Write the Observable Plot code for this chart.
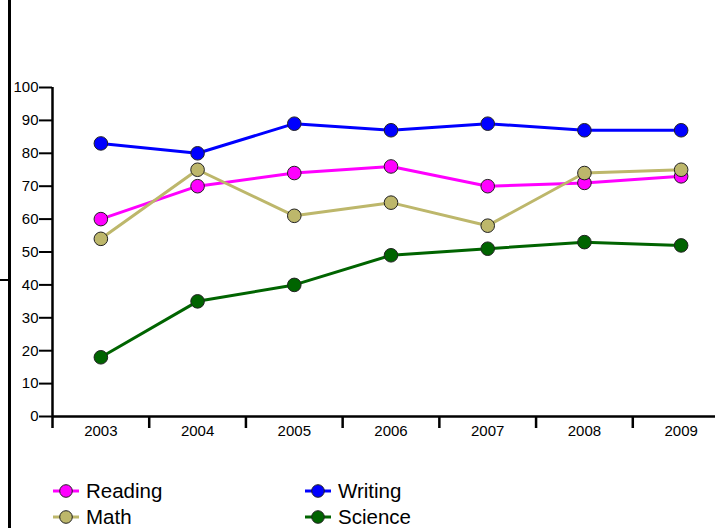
<!DOCTYPE html>
<html>
<head>
<meta charset="utf-8">
<script src="https://cdn.jsdelivr.net/npm/d3@7"></script>
<script src="https://cdn.jsdelivr.net/npm/@observablehq/plot@0.6"></script>
<style>
  body { margin: 0; background: #fff; font-family: "Liberation Sans", Arial, sans-serif; }
  #wrap { position: relative; width: 715px; height: 528px; overflow: hidden; }
  #vline { position: absolute; left: 8px; top: 0; width: 2.5px; height: 528px; background: #000; }
  #vtick { position: absolute; left: 0; top: 279px; width: 9px; height: 2px; background: #000; }
  #chart { position: absolute; left: 0; top: 0; }
  .leg { position: absolute; display: flex; align-items: center; font-size: 20.5px; color: #000; line-height: 20px; }
  .leg svg { margin-right: 7px; }
</style>
</head>
<body>
<div id="wrap">
  <div id="chart"></div>
  <div id="vline"></div>
  <div id="vtick"></div>
  <div id="legend"></div>
</div>
<script>
const years = ["2003", "2004", "2005", "2006", "2007", "2008", "2009"];
const seriesNames = ["Reading", "Writing", "Math", "Science"];
const seriesColors = ["#ff00ff", "#0000ff", "#bdb76b", "#006400"];
const reading = [60, 70, 74, 76, 70, 71, 73];
const writing = [83, 80, 89, 87, 89, 87, 87];
const math = [54, 75, 61, 65, 58, 74, 75];
const science = [18, 35, 40, 49, 51, 53, 52];
const yTicks = [0, 10, 20, 30, 40, 50, 60, 70, 80, 90, 100];

const seriesValues = [reading, writing, math, science];
const data = [];
seriesNames.forEach((s, i) => {
  years.forEach((y, j) => data.push({series: s, year: y, value: seriesValues[i][j]}));
});

const x0 = 52, x1 = 729;
const step = (x1 - x0) / years.length;

const chart = Plot.plot({
  width: 715,
  height: 470,
  marginLeft: 52,
  marginRight: 0,
  marginTop: 87,
  marginBottom: 54,
  style: {fontFamily: "'Liberation Sans', Arial, sans-serif", fontSize: "15px", color: "#000", background: "#fff"},
  x: {type: "point", domain: years, range: [x0, x1], padding: 0.5, round: false},
  y: {domain: [0, 100]},
  color: {domain: seriesNames, range: seriesColors},
  marks: [
    Plot.axisY({ticks: yTicks, tickSize: 13, tickPadding: 1, fontSize: 15, strokeWidth: 2, label: null}),
    Plot.axisX({tickSize: 12, tickFormat: () => "", dx: -step / 2, strokeWidth: 2.5, label: null}),
    Plot.axisX({tickSize: 0, tickPadding: 9, fontSize: 15, label: null}),
    Plot.ruleX([years[0]], {y1: 0, y2: 100, dx: -step / 2, strokeWidth: 2.5}),
    Plot.ruleY([0], {strokeWidth: 2.5}),
    Plot.line(data, {x: "year", y: "value", z: "series", stroke: "series", strokeWidth: 3}),
    Plot.dot(data, {x: "year", y: "value", fill: "series", r: 6.8, stroke: "#222", strokeWidth: 1})
  ]
});
document.getElementById("chart").appendChild(chart);

// legend
const legendPos = [[53, 491], [305, 491], [53, 517], [305, 517]];
const leg = document.getElementById("legend");
seriesNames.forEach((s, i) => {
  const div = document.createElement("div");
  div.className = "leg";
  div.style.left = legendPos[i][0] + "px";
  div.style.top = (legendPos[i][1] - 10) + "px";
  div.innerHTML = `<svg width="26" height="16"><line x1="0" x2="26" y1="8" y2="8" stroke="${seriesColors[i]}" stroke-width="3"/><circle cx="13" cy="8" r="6.3" fill="${seriesColors[i]}" stroke="#222" stroke-width="1"/></svg><span>${s}</span>`;
  leg.appendChild(div);
});
</script>
</body>
</html>
